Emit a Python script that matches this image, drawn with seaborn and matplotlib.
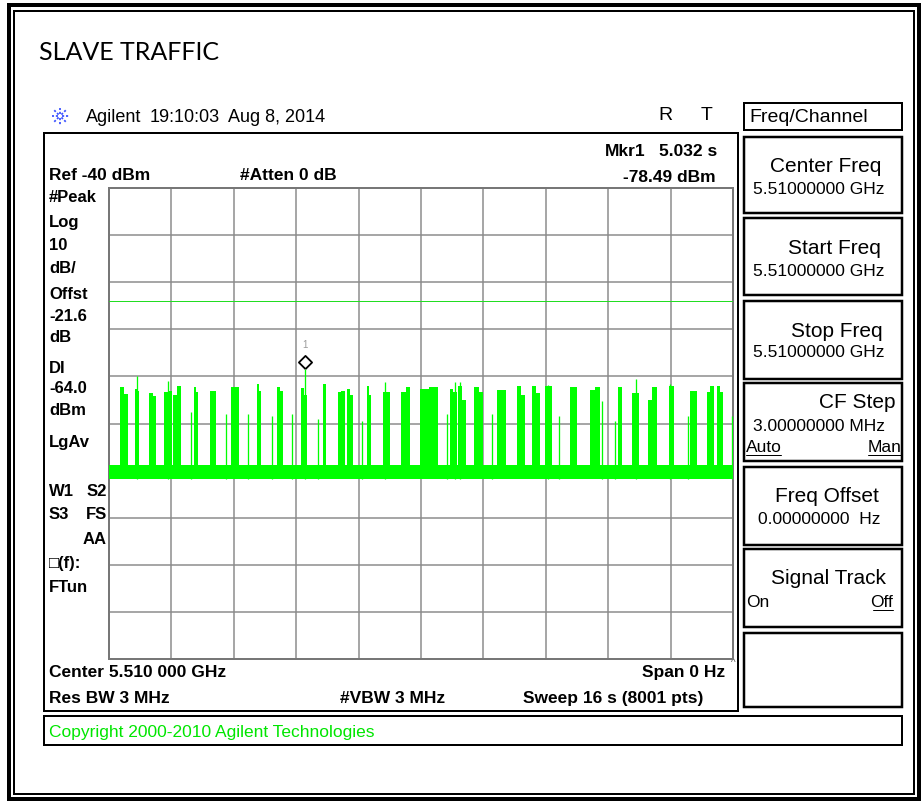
import numpy as np
import pandas as pd
import matplotlib
matplotlib.use("Agg")
import matplotlib.pyplot as plt
from matplotlib.patches import Rectangle
from matplotlib.transforms import offset_copy
import seaborn as sns

# ---- instrument settings (zero span sweep) ----
SWEEP_S = 16.0
REF_DBM = -40.0
DB_PER_DIV = 10.0
DISPLAY_LINE_DBM = -64.0

# marker 1
MKR_TIME_S = 5.032
MKR_LEVEL_DBM = -78.49

# noise floor band of the trace
FLOOR_LOW_DBM = -101.8
FLOOR_HIGH_DBM = -98.9

# traffic bursts: start / end time (s), level at the head and tail of each burst
burst_start = [0.28, 0.67, 1.03, 1.41, 1.64, 2.18, 2.59, 3.13, 3.79, 4.31, 4.92,
               5.49, 5.87, 6.10, 6.62, 7.03, 7.49, 7.97, 8.74, 8.95, 9.36, 9.95,
               10.46, 10.85, 11.18, 11.82, 12.33, 13.05, 13.41, 13.82, 14.36,
               14.90, 15.33, 15.59]
burst_end = [0.49, 0.77, 1.21, 1.62, 1.85, 2.28, 2.74, 3.33, 3.90, 4.46, 5.08,
             5.56, 6.05, 6.26, 6.72, 7.21, 7.72, 8.44, 8.92, 9.15, 9.59, 10.18,
             10.67, 11.05, 11.36, 12.00, 12.59, 13.15, 13.59, 14.05, 14.49,
             15.08, 15.51, 15.74]
burst_head = [-82.3, -82.6, -83.5, -83.3, -84.0, -82.3, -83.0, -82.3, -81.6,
              -82.3, -82.5, -81.6, -83.3, -82.6, -82.0, -83.3, -83.3, -82.6,
              -82.6, -82.0, -82.3, -82.8, -82.0, -82.0, -82.0, -82.3, -82.8,
              -82.3, -83.6, -85.0, -82.0, -83.0, -83.3, -82.0]
burst_tail = [-83.8, -83.0, -84.2, -83.0, -82.0, -83.3, -83.0, -82.3, -83.0,
              -83.0, -84.0, -81.6, -83.0, -84.0, -84.0, -83.3, -82.3, -82.3,
              -83.3, -85.0, -83.3, -82.8, -84.0, -83.5, -82.0, -82.3, -82.3,
              -82.3, -83.6, -82.3, -82.0, -83.0, -82.0, -83.3]

# short packets and burst tips
spike_time = [0.71, 1.50, 2.10, 3.00, 3.56, 4.18, 4.69, 5.032, 5.36, 6.49, 7.08,
              8.67, 8.87, 9.00, 9.82, 11.26, 11.54, 12.64, 12.97, 13.50, 14.38,
              14.85, 15.97]
spike_level = [-80.0, -81.0, -87.5, -88.0, -88.0, -88.4, -88.0, -78.49, -89.0,
               -89.5, -81.2, -88.0, -81.2, -81.2, -88.0, -81.9, -88.5, -85.2,
               -89.5, -80.6, -81.6, -88.5, -88.4]

TRACE = "#00ff00"
GRID = "#8a8a8a"
FONT = ["Liberation Sans", "DejaVu Sans"]

sns.set_theme(style="white")
plt.rcParams["font.family"] = FONT

W, H = 922, 804
fig = plt.figure(figsize=(W / 100, H / 100), dpi=100)
fig.patch.set_facecolor("white")

# full-figure layer in pixel units for frames and annotations
bg = fig.add_axes([0, 0, 1, 1], zorder=0)
bg.set_xlim(0, W)
bg.set_ylim(H, 0)
bg.axis("off")

PT = 0.72  # points per pixel at 100 dpi


def txt(x, y, s, size=12.5, weight="normal", ha="left", color="black"):
    bg.text(x, y, s, fontsize=size, fontweight=weight, ha=ha, va="center",
            color=color, family=FONT)


def box(x0, y0, x1, y1, lw_px, color="black"):
    bg.add_patch(Rectangle((x0, y0), x1 - x0, y1 - y0, fill=False,
                           lw=lw_px * PT, edgecolor=color, joinstyle="miter"))


# page borders (thick-thin)
box(9, 6, 919, 800, 4)
box(14, 12, 914, 795, 2)

bg.text(39, 52, "SLAVE TRAFFIC", fontsize=18, ha="left", va="center",
        family=["Lato", "DejaVu Sans"], color="black")

# header line with the instrument logo
for ang in range(0, 360, 45):
    r = np.deg2rad(ang)
    bg.plot([60 + 2.0 * np.cos(r), 60 + 8.5 * np.cos(r)],
            [117 + 2.0 * np.sin(r), 117 + 8.5 * np.sin(r)],
            color="#3f55ff", lw=1.3, ls=(0, (1.2, 1.0)))
txt(86, 117, "Agilent", size=13)
txt(150, 117, "19:10:03", size=13)
txt(228, 117, "Aug 8, 2014", size=13)
txt(665, 116, "R", size=14, ha="center")
txt(707, 116, "T", size=14, ha="center")

# graticule frame
box(44, 134, 738, 712, 2)
txt(49, 176, "Ref -40 dBm", weight="bold")
txt(240, 176, "#Atten 0 dB", weight="bold")
txt(605, 152, "Mkr1", weight="bold")
txt(717, 152, "5.032 s", weight="bold", ha="right")
txt(716, 177, "-78.49 dBm", weight="bold", ha="right")

left_labels = [("#Peak", 198), ("Log", 223), ("10", 246), ("dB/", 269),
               ("Offst", 295), ("-21.6", 317), ("dB", 338), ("DI", 369),
               ("-64.0", 389), ("dBm", 411), ("LgAv", 443), ("W1", 492),
               ("S3", 515), ("\u25a1(f):", 564), ("FTun", 588)]
for s, y in left_labels:
    txt(49, y, s, weight="bold", size=12)
for s, y in [("S2", 492), ("FS", 515), ("AA", 540)]:
    txt(107, y, s, weight="bold", size=12, ha="right")

txt(49, 673, "Center 5.510 000 GHz", weight="bold")
txt(725, 673, "Span 0 Hz", weight="bold", ha="right")
txt(733, 663, "^", size=7, ha="center", color="#555555")
txt(49, 699, "Res BW 3 MHz", weight="bold")
txt(340, 699, "#VBW 3 MHz", weight="bold")
txt(523, 699, "Sweep 16 s (8001 pts)", weight="bold")

box(44, 717, 902, 746, 2)
txt(49, 733, "Copyright 2000-2010 Agilent Technologies", color="#00e600")

# softkey menu
box(744, 104, 902, 131, 2)
txt(749, 118, "Freq/Channel", size=14)
keys = [(138, 214), (219, 296), (302, 380), (384, 462), (468, 546),
        (550, 628), (634, 708)]
for y0, y1 in keys:
    box(744, y0, 902, y1, 2.5)
txt(881, 167, "Center Freq", size=15, ha="right")
txt(753, 189, "5.51000000 GHz", size=12.5)
txt(881, 248, "Start Freq", size=15, ha="right")
txt(753, 272, "5.51000000 GHz", size=12.5)
txt(883, 332, "Stop Freq", size=15, ha="right")
txt(753, 353, "5.51000000 GHz", size=12.5)
txt(895, 403, "CF Step", size=15, ha="right")
txt(753, 427, "3.00000000 MHz", size=12.5)
txt(746, 448, "Auto", size=12.5)
txt(901, 448, "Man", size=12.5, ha="right")
txt(879, 497, "Freq Offset", size=15, ha="right")
txt(758, 520, "0.00000000  Hz", size=12.5)
txt(886, 579, "Signal Track", size=15, ha="right")
txt(746, 603, "On", size=12.5)
txt(893, 603, "Off", size=12.5, ha="right")
for x0, x1, y in [(746, 781, 456), (868, 901, 456), (873, 893, 611)]:
    bg.plot([x0, x1], [y, y], color="black", lw=1.0 * PT)

# ---- trace display ----
gx0, gx1, gy0, gy1 = 109, 733, 189, 660
ax = fig.add_axes([gx0 / W, 1 - gy1 / H, (gx1 - gx0) / W, (gy1 - gy0) / H],
                  zorder=1)
ax.set_facecolor("white")
bottom_dbm = REF_DBM - 10 * DB_PER_DIV
ax.set_xlim(0, SWEEP_S)
ax.set_ylim(bottom_dbm, REF_DBM)
ax.set_xticks(np.linspace(0, SWEEP_S, 11))
ax.set_yticks(np.arange(bottom_dbm, REF_DBM + 1, DB_PER_DIV))
ax.grid(True, color=GRID, lw=1.5 * PT)
ax.tick_params(length=0, labelbottom=False, labelleft=False)
for sp in ax.spines.values():
    sp.set_color("#777777")
    sp.set_linewidth(2 * PT)

# noise floor band
ax.fill_between([0, SWEEP_S], FLOOR_LOW_DBM, FLOOR_HIGH_DBM, color=TRACE,
                lw=0, zorder=3)

# bursts
for s, e, hd, tl in zip(burst_start, burst_end, burst_head, burst_tail):
    m = 0.5 * (s + e)
    ax.fill_between([s, m, e], FLOOR_LOW_DBM, [hd, tl, tl], step="post",
                    color=TRACE, lw=0, zorder=3)

# short packets and tips
ax.vlines(spike_time, FLOOR_LOW_DBM, spike_level, color=TRACE, lw=1.3 * PT,
          zorder=3)

# display line
dl = pd.DataFrame({"t": [0, SWEEP_S], "lvl": [DISPLAY_LINE_DBM] * 2})
sns.lineplot(data=dl, x="t", y="lvl", ax=ax, color="#22dd22", lw=1.0 * PT,
             zorder=4)
ax.set_xlabel("")
ax.set_ylabel("")

# marker 1
mk = offset_copy(ax.transData, fig=fig, x=0, y=7, units="dots")
diamond = [(0, -1), (1, 0), (0, 1), (-1, 0), (0, -1)]
ax.plot([MKR_TIME_S], [MKR_LEVEL_DBM], marker=diamond, ms=9.5, mfc="white",
        mec="black", mew=1.8 * PT, transform=mk, zorder=6, clip_on=False)
ax.annotate("1", (MKR_TIME_S, MKR_LEVEL_DBM), xytext=(0, 25),
            textcoords="offset pixels", ha="center", va="center",
            fontsize=7, color="#999999", zorder=6)

fig.savefig("out.png", dpi=100, facecolor="white")
